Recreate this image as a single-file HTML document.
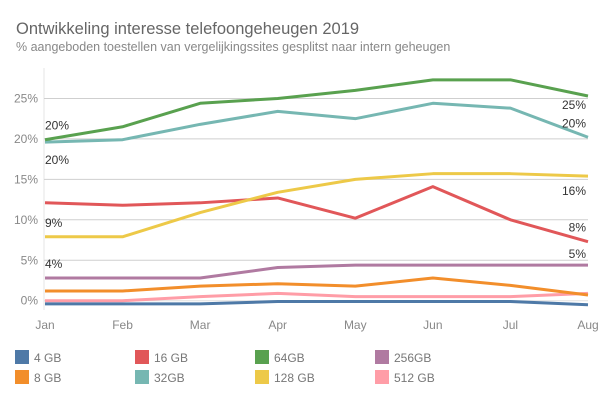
<!DOCTYPE html>
<html><head><meta charset="utf-8"><style>
body{margin:0;background:#fff;font-family:"Liberation Sans",sans-serif;}
svg text{font-family:"Liberation Sans",sans-serif;}
</style></head><body>
<svg id="chart" width="600" height="400">
<text x="16" y="34" font-size="16.5" fill="#666">Ontwikkeling interesse telefoongeheugen 2019</text>
<text x="16" y="51" font-size="12.5" fill="#888">% aangeboden toestellen van vergelijkingssites gesplitst naar intern geheugen</text>
<g id="grid"></g><g id="lines"></g><g id="labels"></g><g id="legend"></g>
</svg>
<script>
const months=["Jan","Feb","Mar","Apr","May","Jun","Jul","Aug"];
const yTicks=[0,5,10,15,20,25];
const seriesNames=["4 GB","8 GB","16 GB","32GB","64GB","128 GB","256GB","512 GB"];
const seriesColors=["#4e79a7","#f28e2b","#e15759","#76b7b2","#59a14f","#edc948","#b07aa1","#ff9da7"];
const v4=[-0.4,-0.4,-0.4,-0.1,-0.1,-0.1,-0.1,-0.5];
const v8=[1.2,1.2,1.8,2.1,1.8,2.8,1.9,0.7];
const v16=[12.1,11.8,12.1,12.7,10.2,14.1,10.0,7.3];
const v32=[19.6,19.9,21.8,23.4,22.5,24.4,23.8,20.2];
const v64=[19.9,21.5,24.4,25.0,26.0,27.3,27.3,25.3];
const v128=[7.9,7.9,10.9,13.4,15.0,15.7,15.7,15.4];
const v256=[2.8,2.8,2.8,4.1,4.4,4.4,4.4,4.4];
const v512=[0,0,0.5,0.9,0.5,0.5,0.5,0.9];
const startLabels=["","","","20%","20%","9%","4%",""];
const endLabels=["","","8%","20%","25%","16%","5%",""];
const allSeries=[v4,v8,v16,v32,v64,v128,v256,v512];
const ns="http://www.w3.org/2000/svg";
const X=i=>45+i*(588-45)/7;
const Y=v=>300.7-v*8.09;
function mk(tag,attrs,parent,txt){const e=document.createElementNS(ns,tag);for(const k in attrs)e.setAttribute(k,attrs[k]);if(txt!==undefined)e.textContent=txt;parent.appendChild(e);return e;}
const grid=document.getElementById('grid');
mk('line',{x1:44,y1:68,x2:44,y2:310,stroke:'#e6e6e6'},grid);
yTicks.forEach(t=>{
  const l=mk('line',{x1:44,x2:588,y1:Y(t),y2:Y(t),stroke:t===0?'#e0e0e0':'#cfcfcf'},grid);
  
  
  const tx=mk('text',{x:38,y:Y(t)+4,'text-anchor':'end','font-size':12,fill:'#888'},grid,t+'%');
  
  
});
months.forEach((m,i)=>{
  const tx=mk('text',{x:X(i),y:329,'text-anchor':'middle','font-size':12,fill:'#888'},grid,m);
  
  
});
const lines=document.getElementById('lines');
const order=[7,0,1,6,2,5,3,4];
order.forEach(s=>{
  const d=allSeries[s].map((v,i)=>(i?'L':'M')+X(i)+','+Y(v)).join(' ');
  const p=mk('path',{d:d,fill:'none',stroke:seriesColors[s],'stroke-width':3,'stroke-linejoin':'round'},lines);
  
  
});
const labels=document.getElementById('labels');
const startOff=[0,0,0,22,-10,-10,-10,0];
const endOff=[0,0,-10,-10,13,19,-7,0];
allSeries.forEach((s,k)=>{
  if(startLabels[k]){const t=mk('text',{x:45,y:Y(s[0])+startOff[k],'font-size':12,fill:'#333'},labels,startLabels[k]);
    
    }
  if(endLabels[k]){const t=mk('text',{x:586,y:Y(s[7])+endOff[k],'text-anchor':'end','font-size':12,fill:'#333'},labels,endLabels[k]);
    
    }
});
const legend=document.getElementById('legend');
const legOrder=[0,2,4,6,1,3,5,7];
legOrder.forEach((s,i)=>{
  const col=i%4,row=Math.floor(i/4);
  const x=15+col*120,y=350+row*20;
  const g=mk('g',{},legend);
  
  
  mk('rect',{x:x,y:y,width:14,height:14,fill:seriesColors[s]},g);
  mk('text',{x:x+19,y:y+12,'font-size':12,fill:'#777'},g,seriesNames[s]);
});
</script>
</body></html>
